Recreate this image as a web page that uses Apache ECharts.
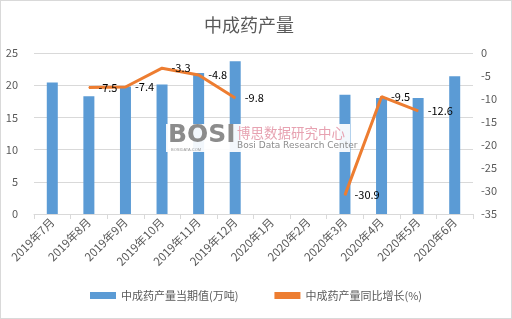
<!DOCTYPE html>
<html><head><meta charset="utf-8">
<script src="https://cdn.jsdelivr.net/npm/echarts@6/dist/echarts.min.js"></script>
<style>html,body{margin:0;padding:0;background:#fff}#c{width:512px;height:319px;box-sizing:border-box;border:1px solid #d9d9d9}</style>
</head><body><div id="c"></div>
<script>
var categories = ['2019年7月','2019年8月','2019年9月','2019年10月','2019年11月','2019年12月','2020年1月','2020年2月','2020年3月','2020年4月','2020年5月','2020年6月'];
var outputValues = [20.4, 18.3, 19.8, 20.1, 21.9, 23.7, null, null, 18.5, 18.0, 18.0, 21.4];
var growthValues = [null, -7.5, -7.4, -3.3, -4.8, -9.8, null, null, -30.9, -9.5, -12.6, null];
var leftTicks = [0, 25, 5];
var rightTicks = [-35, 0, 5];
var seriesNames = ['中成药产量当期值(万吨)', '中成药产量同比增长(%)'];
var titleText = '中成药产量';

var chart = echarts.init(document.getElementById('c'), null, {renderer:'canvas'});
var txt = '#595959';
var ff = '"Microsoft YaHei","Noto Sans CJK SC",sans-serif';
var lineData = growthValues.map(function(v){
  return {value:v, label:{show:v!==null, position:'right', distance:9}};
});
chart.setOption({
  animation:false,
  textStyle:{fontFamily:ff},
  title:{text:titleText,left:198,top:10,textStyle:{fontSize:18,fontWeight:'normal',color:txt,fontFamily:ff}},
  grid:{left:33,right:38,top:52,bottom:104},
  legend:{bottom:12,left:'center',itemGap:36,textStyle:{color:txt,fontSize:11,fontFamily:ff},
    data:[{name:seriesNames[0],icon:'rect',itemWidth:26,itemHeight:7},{name:seriesNames[1],icon:'rect',itemWidth:26,itemHeight:3}],
    itemWidth:26,itemHeight:7},
  xAxis:{type:'category',data:categories,
    axisLine:{lineStyle:{color:'#d9d9d9'}},axisTick:{show:true,alignWithLabel:false,lineStyle:{color:'#d9d9d9'}},
    axisLabel:{rotate:45,color:txt,fontSize:11.5,interval:0,margin:6}},
  yAxis:[
    {type:'value',min:leftTicks[0],max:leftTicks[1],interval:leftTicks[2],
     axisLabel:{color:txt,fontSize:11,margin:16},axisLine:{show:false},axisTick:{show:false},
     splitLine:{lineStyle:{color:'#d9d9d9'}}},
    {type:'value',min:rightTicks[0],max:rightTicks[1],interval:rightTicks[2],
     axisLabel:{color:txt,fontSize:11,margin:8},axisLine:{show:false},axisTick:{show:false},splitLine:{show:false}}
  ],
  graphic:[
    {type:'rect',left:165,top:123,shape:{width:184,height:28},style:{fill:'rgba(255,255,255,0.92)'},z:100},
    {type:'text',left:167,top:122,style:{text:'BOSI',font:'bold 25px "DejaVu Sans",sans-serif',fill:'#8c8c8c'},z:101},
    {type:'text',left:170,top:147,style:{text:'BOSIDATA.COM',font:'4px sans-serif',fill:'#999'},z:101},
    {type:'text',left:236,top:125,style:{text:'博思数据研究中心',font:'13.5px "Noto Sans CJK SC",sans-serif',fill:'#e7a2b1'},z:101},
    {type:'text',left:236,top:140,style:{text:'Bosi Data Research Center',font:'9px "DejaVu Sans",sans-serif',fill:'#8c8c8c'},z:101}
  ],
  series:[
    {name:seriesNames[0],type:'bar',data:outputValues,barWidth:11,itemStyle:{color:'#5B9BD5'},yAxisIndex:0},
    {name:seriesNames[1],type:'line',data:lineData,yAxisIndex:1,symbol:'circle',symbolSize:1,showSymbol:true,connectNulls:false,
     lineStyle:{color:'#ED7D31',width:3},itemStyle:{color:'#ED7D31'},
     label:{show:true,position:'right',distance:9,color:'#000',fontSize:11,fontFamily:ff},
     labelLayout:{hideOverlap:false}}
  ]
});
</script></body></html>
